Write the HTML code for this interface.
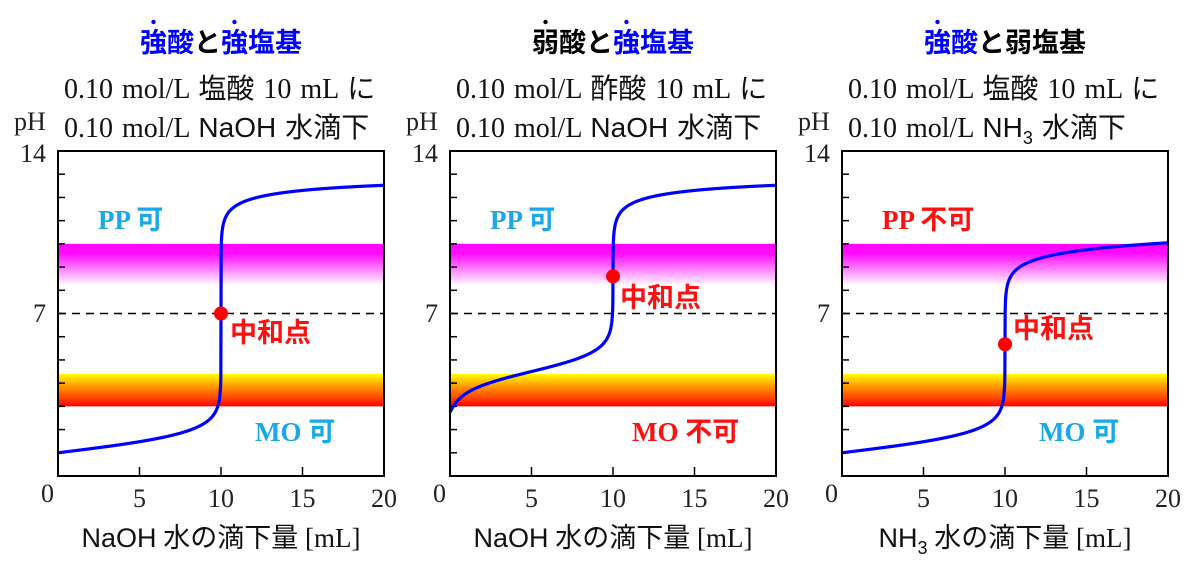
<!DOCTYPE html>
<html><head><meta charset="utf-8"><style>
html,body{margin:0;padding:0;background:#fff;}
svg{display:block;}
.t{font-family:"Liberation Sans","Noto Sans CJK JP",sans-serif;font-size:27px;font-weight:bold;}
.s{font-family:"Liberation Serif","Noto Sans CJK JP",serif;font-size:28px;fill:#111;word-spacing:2px;}
.n{font-family:"Liberation Sans","Noto Sans CJK JP",sans-serif;}
.lb{font-family:"Liberation Serif","Noto Sans CJK JP",serif;font-size:27px;font-weight:bold;}
.tk{font-family:"Liberation Serif",serif;font-size:26px;fill:#222;}
.xt{font-family:"Liberation Serif","Noto Sans CJK JP",serif;font-size:27px;fill:#111;}
</style></head><body>
<svg id="g" width="1200" height="581" viewBox="0 0 1200 581" xmlns="http://www.w3.org/2000/svg">
<defs>
<linearGradient id="mg" x1="0" y1="0" x2="0" y2="1">
<stop offset="0" stop-color="#ff00ff"/><stop offset="0.25" stop-color="#ff10ff"/><stop offset="1" stop-color="#ffffff"/>
</linearGradient>
<linearGradient id="yr" x1="0" y1="0" x2="0" y2="1">
<stop offset="0" stop-color="#ffff00"/><stop offset="0.35" stop-color="#ffa000"/><stop offset="0.7" stop-color="#ff5000"/><stop offset="1" stop-color="#ff0000"/>
</linearGradient>
</defs>
</svg>
<script>
(function(){
var svg=document.getElementById('g');var NS='http://www.w3.org/2000/svg';
var TOP=151,BOT=476,W=326,K=(BOT-TOP)/14;
function el(n,a,txt){var e=document.createElementNS(NS,n);for(var k in a)e.setAttribute(k,a[k]);if(txt!=null)e.innerHTML=txt;svg.appendChild(e);return e;}
function y(p){return BOT-p*K;}
var Kw=1e-14;
function solve(f){var lo=-14,hi=0;for(var i=0;i<80;i++){var m=(lo+hi)/2;if(f(Math.pow(10,m))>0)hi=m;else lo=m;}return -(lo+hi)/2;}
function p1(v){var d=0.1*(10-v)/(10+v);var H=(d+Math.sqrt(d*d+4*Kw))/2;return -Math.log10(H);}
var Ka2=Math.pow(10,-4.5);
function p2(v){var Ca=1/(10+v),Na=0.1*v/(10+v);return solve(function(H){return Na+H-Ca*Ka2/(Ka2+H)-Kw/H;});}
var Ka3=Math.pow(10,-10.05);
function p3(v){var Cl=1/(10+v),B=0.1*v/(10+v);return solve(function(H){return H+B*H/(H+Ka3)-Cl-Kw/H;});}
var panels=[
{x:58,f:p1,title:'<tspan fill="#0000ff">強酸</tspan><tspan fill="#000">と</tspan><tspan fill="#0000ff">強塩基</tspan>',dots:[[0,'#0000ff'],[3,'#0000ff']],
 s1:'0.10 mol/L 塩酸 10 mL に',s2:'0.10 mol/L <tspan class="n">NaOH</tspan> 水滴下',
 xl:'<tspan class="n">NaOH</tspan> 水の滴下量 [mL]',pp:['PP 可','#1aa8e8'],mo:['MO 可','#1aa8e8'],nx:230,ny:342},
{x:450,f:p2,title:'<tspan fill="#000">弱酸と</tspan><tspan fill="#0000ff">強塩基</tspan>',dots:[[0,'#000'],[3,'#0000ff']],
 s1:'0.10 mol/L 酢酸 10 mL に',s2:'0.10 mol/L <tspan class="n">NaOH</tspan> 水滴下',
 xl:'<tspan class="n">NaOH</tspan> 水の滴下量 [mL]',pp:['PP 可','#1aa8e8'],mo:['MO 不可','#ff1010'],nx:620,ny:307},
{x:842,f:p3,title:'<tspan fill="#0000ff">強酸</tspan><tspan fill="#000">と弱塩基</tspan>',dots:[[0,'#0000ff']],
 s1:'0.10 mol/L 塩酸 10 mL に',s2:'0.10 mol/L <tspan class="n">NH<tspan font-size="18" dy="7">3</tspan></tspan><tspan dy="-7"> 水滴下</tspan>',
 xl:'<tspan class="n">NH<tspan font-size="18" dy="7">3</tspan></tspan><tspan dy="-7"> 水の滴下量 [mL]</tspan>',pp:['PP 不可','#ff1010'],mo:['MO 可','#1aa8e8'],nx:1013,ny:338}
];
panels.forEach(function(P,i){
 var x0=P.x,cx=x0+W/2;
 el('text',{x:cx,y:52,'text-anchor':'middle','class':'t'},P.title);
 var tw=162;var sx=cx-tw/2;
 P.dots.forEach(function(c){el('circle',{cx:sx+c[0]*27+13.5,cy:22,r:2.2,fill:c[1]});});
 el('text',{x:x0+6,y:98,'class':'s'},P.s1);
 el('text',{x:x0+6,y:137,'class':'s'},P.s2);
 el('text',{x:x0-44,y:130,'class':'tk'},'pH');
 el('text',{x:x0-38,y:162,'class':'tk'},'14');
 el('text',{x:x0-25,y:322,'class':'tk'},'7');
 el('text',{x:x0-17,y:502,'class':'tk'},'0');
 [5,10,15,20].forEach(function(v){el('text',{x:x0+v*W/20,y:507,'text-anchor':'middle','class':'tk'},String(v));});
 el('text',{x:cx,y:547,'text-anchor':'middle','class':'xt'},P.xl);
 el('rect',{x:x0,y:y(10),width:W,height:y(8.2)-y(10),fill:'url(#mg)'});
 el('rect',{x:x0,y:y(4.4),width:W,height:y(3.0)-y(4.4),fill:'url(#yr)'});
 el('line',{x1:x0,y1:y(7),x2:x0+W,y2:y(7),stroke:'#000','stroke-width':1.5,'stroke-dasharray':'8,6'});
 for(var p=1;p<14;p++){el('line',{x1:x0,y1:y(p),x2:x0+7,y2:y(p),stroke:'#000','stroke-width':1.5});}
 [5,10,15].forEach(function(v){var xx=x0+v*W/20;el('line',{x1:xx,y1:BOT,x2:xx,y2:BOT-9,stroke:'#000','stroke-width':1.5});});
 el('text',{x:x0+40,y:229,'class':'lb',fill:P.pp[1]},P.pp[0]);
 if(i==1) el('text',{x:x0+182,y:441,'class':'lb',fill:P.mo[1]},P.mo[0]);
 else el('text',{x:x0+197,y:441,'class':'lb',fill:P.mo[1]},P.mo[0]);
 var d='';for(var k=0;k<=2000;k++){var v=k*0.01;var ph=P.f(v);if(ph>14)ph=14;d+=(k?'L':'M')+(x0+v*W/20).toFixed(2)+','+y(ph).toFixed(2);}
 el('path',{d:d,fill:'none',stroke:'#0000ff','stroke-width':3.2,'stroke-linejoin':'round'});
 var pe=P.f(10);
 el('circle',{cx:x0+W/2,cy:y(pe),r:7,fill:'#ff0000'});
 el('text',{x:P.nx,y:P.ny,'class':'t',fill:'#ff1010','font-weight':'normal'},'中和点');
 el('rect',{x:x0,y:TOP,width:W,height:BOT-TOP,fill:'none',stroke:'#000','stroke-width':2});
});
})();
</script>
</body></html>
